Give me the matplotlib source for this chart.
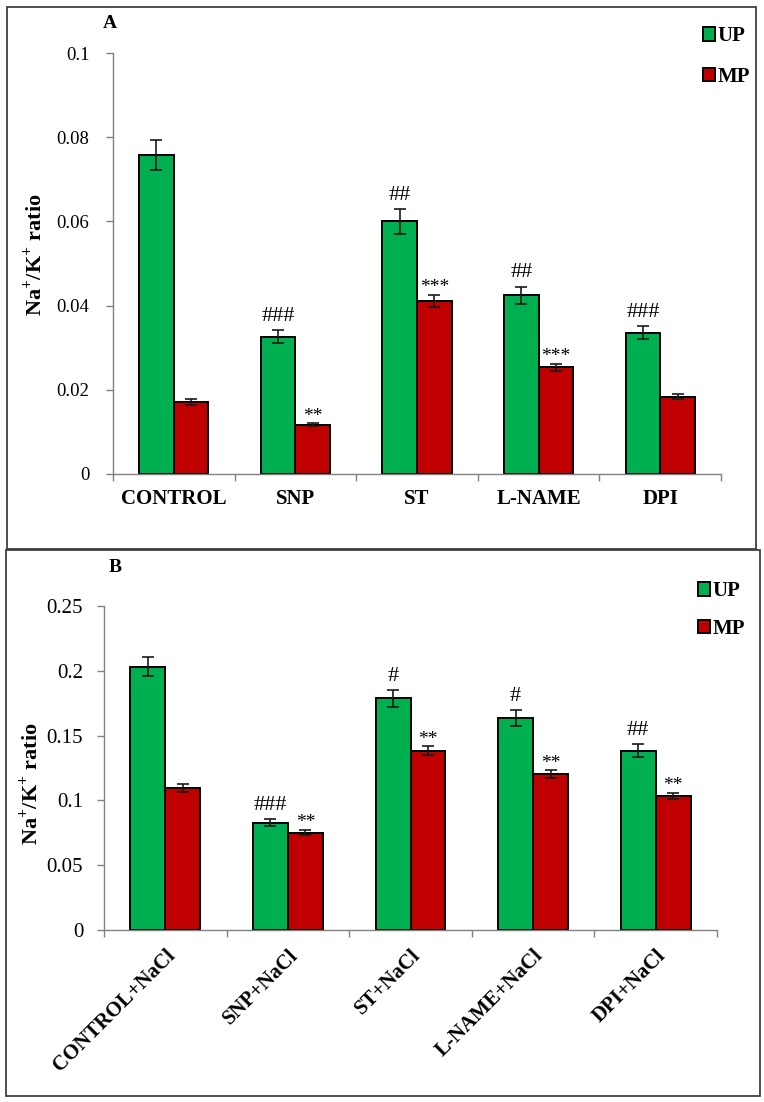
import matplotlib
matplotlib.use("Agg")
import matplotlib.pyplot as plt
import numpy as np
from matplotlib.patches import Rectangle

plt.rcParams['font.family'] = ['Liberation Serif', 'DejaVu Serif']
plt.rcParams['mathtext.fontset'] = 'custom'
plt.rcParams['mathtext.rm'] = 'Liberation Serif'
plt.rcParams['mathtext.bf'] = 'Liberation Serif:bold'

cats_a = ["CONTROL", "SNP", "ST", "L-NAME", "DPI"]
up_a = [0.0758, 0.0326, 0.0600, 0.0424, 0.0336]
up_a_err = [0.0036, 0.0015, 0.0029, 0.0021, 0.0016]
mp_a = [0.0171, 0.0117, 0.0411, 0.0253, 0.0183]
mp_a_err = [0.0007, 0.0003, 0.0014, 0.0009, 0.0006]
up_a_sig = ["", "###", "##", "##", "###"]
mp_a_sig = ["", "**", "***", "***", ""]

cats_b = ["CONTROL+NaCl", "SNP+NaCl", "ST+NaCl", "L-NAME+NaCl", "DPI+NaCl"]
up_b = [0.2033, 0.0829, 0.1787, 0.1636, 0.1383]
up_b_err = [0.0070, 0.0030, 0.0064, 0.0060, 0.0050]
mp_b = [0.1096, 0.0751, 0.1383, 0.1201, 0.1035]
mp_b_err = [0.0029, 0.0020, 0.0035, 0.0030, 0.0025]
up_b_sig = ["", "###", "#", "#", "##"]
mp_b_sig = ["", "**", "**", "**", "**"]

GREEN = "#00B050"
RED = "#C00000"
W = 764
H = 1102

fig = plt.figure(figsize=(W / 100, H / 100), dpi=100)

# panel frames
fig.patches.append(Rectangle((7 / W, 1 - 549 / H), (756 - 7) / W, (549 - 7) / H,
                             transform=fig.transFigure, fill=False,
                             edgecolor="#404040", linewidth=1.3))
fig.patches.append(Rectangle((6 / W, 1 - 1096 / H), (760 - 6) / W, (1096 - 550) / H,
                             transform=fig.transFigure, fill=False,
                             edgecolor="#404040", linewidth=1.3))


def panel(rect, cats, up, upe, mp, mpe, ups, mps, ymax, ystep, fmt, rot, tfs, tpad):
    ax = fig.add_axes(rect)
    x = np.arange(len(cats))
    w = 0.285
    ekw = dict(ecolor="#1a1a1a", elinewidth=1.2, capsize=4, capthick=1.2)
    b1 = ax.bar(x - w / 2, up, w, yerr=upe, color=GREEN, edgecolor="black",
                linewidth=1.4, error_kw=ekw, label="UP", zorder=2)
    b2 = ax.bar(x + w / 2, mp, w, yerr=mpe, color=RED, edgecolor="black",
                linewidth=1.4, error_kw=ekw, label="MP", zorder=2)
    for i in range(len(cats)):
        if ups[i]:
            ax.annotate(ups[i], (x[i] - w / 2, up[i] + upe[i]), xytext=(0, 3),
                        textcoords="offset points", ha="center", va="bottom",
                        fontsize=16)
        if mps[i]:
            ax.annotate(mps[i], (x[i] + w / 2, mp[i] + mpe[i]), xytext=(0, -1),
                        textcoords="offset points", ha="center", va="bottom",
                        fontsize=14)
    ax.set_xlim(-0.5, len(cats) - 0.5)
    ax.set_ylim(0, ymax)
    yt = np.arange(0, ymax + ystep / 2, ystep)
    ax.set_yticks(yt)
    ax.set_yticklabels([fmt(v) for v in yt], fontsize=tfs)
    ax.set_xticks(np.arange(len(cats) + 1) - 0.5)
    ax.set_xticklabels([])
    ax.set_xticks(x, minor=True)
    if rot:
        ax.set_xticklabels(cats, minor=True, fontsize=15, fontweight="bold",
                           rotation=45, ha="right", rotation_mode="anchor")
    else:
        ax.set_xticklabels(cats, minor=True, fontsize=15, fontweight="bold")
    ax.tick_params(axis="x", which="minor", length=0, pad=11)
    ax.tick_params(axis="both", which="major", direction="out", length=5,
                   color="#808080", width=1.0)
    ax.tick_params(axis="y", pad=tpad)
    for s in ["top", "right"]:
        ax.spines[s].set_visible(False)
    for s in ["left", "bottom"]:
        ax.spines[s].set_color("#808080")
        ax.spines[s].set_linewidth(1.0)
    ax.set_ylabel(r"Na$^{\mathbf{+}}$/K$^{\mathbf{+}}$ ratio", fontsize=16,
                  fontweight="bold")
    return ax, b1, b2


def fmt_num(v):
    if abs(v) < 1e-12:
        return "0"
    return ("%.2f" % v).rstrip("0")


axA, a1, a2 = panel([113 / W, 1 - 474 / H, 608 / W, 421 / H], cats_a, up_a, up_a_err,
                    mp_a, mp_a_err, up_a_sig, mp_a_sig, 0.1, 0.02, fmt_num, False, 13.5, 12)
axA.yaxis.set_label_coords(-0.11, 0.52)
fig.text(110 / W, 1 - 24 / H, "A", fontsize=14, fontweight="bold", ha="center", va="center")
axA.legend(handles=[a1, a2], labels=["UP", "MP"], loc="upper left",
           bbox_to_anchor=(695 / W, 1 - 18 / H), bbox_transform=fig.transFigure,
           frameon=False, prop={"size": 15, "weight": "bold"}, handlelength=0.55,
           handleheight=0.6, handletextpad=0.15, labelspacing=1.0, borderaxespad=0)

axB, c1, c2 = panel([104 / W, 1 - 930 / H, 613 / W, 324 / H], cats_b, up_b, up_b_err,
                    mp_b, mp_b_err, up_b_sig, mp_b_sig, 0.25, 0.05, fmt_num, True, 15, 10)
axB.yaxis.set_label_coords(-0.10, 0.45)
fig.text(115 / W, 1 - 567 / H, "B", fontsize=14, fontweight="bold", ha="center", va="center")
axB.legend(handles=[c1, c2], labels=["UP", "MP"], loc="upper left",
           bbox_to_anchor=(690 / W, 1 - 573 / H), bbox_transform=fig.transFigure,
           frameon=False, prop={"size": 15, "weight": "bold"}, handlelength=0.55,
           handleheight=0.6, handletextpad=0.15, labelspacing=0.85, borderaxespad=0)

fig.savefig("out.png", dpi=100)
